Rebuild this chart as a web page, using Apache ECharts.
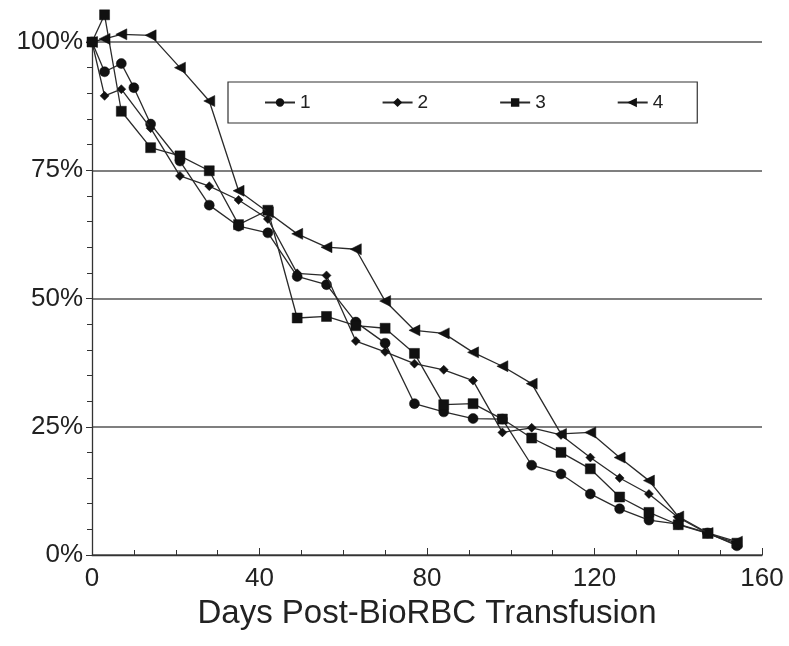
<!DOCTYPE html>
<html>
<head>
<meta charset="utf-8">
<script src="https://cdn.jsdelivr.net/npm/echarts@6/dist/echarts.min.js"></script>
<style>
  html, body { margin: 0; padding: 0; background: #fff; }
  #chart { width: 789px; height: 646px; }
</style>
</head>
<body>
<div id="chart"></div>
<script>
// survival of labelled RBC, % remaining by day
const seriesNames = ["1", "2", "3", "4"];

const days1 = [0, 3, 7, 10, 14, 21, 28, 35, 42, 49, 56, 63, 70, 77, 84, 91, 98, 105, 112, 119, 126, 133, 140, 147, 154];
const vals1 = [100, 94.2, 95.8, 91.1, 84, 76.8, 68.2, 64.1, 62.8, 54.3, 52.7, 45.4, 41.3, 29.5, 27.9, 26.6, 26.5, 17.5, 15.8, 11.9, 9, 6.8, 6, 4.3, 1.8];

const days2 = [0, 3, 7, 14, 21, 28, 35, 42, 49, 56, 63, 70, 77, 84, 91, 98, 105, 112, 119, 126, 133, 140, 147, 154];
const vals2 = [100, 89.5, 90.8, 83.2, 73.9, 71.9, 69.2, 65.5, 54.9, 54.5, 41.7, 39.6, 37.3, 36.1, 34, 23.9, 24.8, 23.4, 19, 15, 11.9, 7.3, 4.2, 2];

const days3 = [0, 3, 7, 14, 21, 28, 35, 42, 49, 56, 63, 70, 77, 84, 91, 98, 105, 112, 119, 126, 133, 140, 147, 154];
const vals3 = [100, 105.3, 86.5, 79.4, 77.8, 74.9, 64.4, 67.2, 46.2, 46.5, 44.7, 44.2, 39.3, 29.3, 29.5, 26.5, 22.8, 20, 16.8, 11.3, 8.3, 5.9, 4.2, 2.3];

const days4 = [0, 3, 7, 14, 21, 28, 35, 42, 49, 56, 63, 70, 77, 84, 91, 98, 105, 112, 119, 126, 133, 140, 147, 154];
const vals4 = [100, 100.6, 101.5, 101.3, 95, 88.5, 71, 66.8, 62.6, 60, 59.6, 49.5, 43.8, 43.2, 39.5, 36.8, 33.4, 23.6, 23.9, 19, 14.5, 7.5, 4.3, 2.6];

const xTicks = [0, 40, 80, 120, 160];
const yTicks = [0, 25, 50, 75, 100];

const allDays = [days1, days2, days3, days4];
const allVals = [vals1, vals2, vals3, vals4];
const symbols = ["circle", "diamond", "rect", "triangle"];
const symbolSizes = [10, 9, 10, 11];
const symbolRot = [0, 0, 0, 90];

const FONT = "Liberation Sans, Arial, Helvetica, sans-serif";

const chart = echarts.init(document.getElementById("chart"));

const series = seriesNames.map((name, i) => ({
  name: name,
  type: "line",
  data: allDays[i].map((d, k) => [d, allVals[i][k]]),
  symbol: symbols[i],
  symbolSize: symbolSizes[i],
  symbolRotate: symbolRot[i],
  clip: false,
  lineStyle: { color: "#2a2a2a", width: 1.3 },
  itemStyle: { color: "#111", borderColor: "#111", borderWidth: 0.5 },
  emphasis: { disabled: true },
  z: 3 + i,
}));

chart.setOption({
  animation: false,
  backgroundColor: "#fff",
  grid: { left: 92, right: 27, top: 42, bottom: 91 },
  legend: {
    data: seriesNames,
    left: 228,
    top: 82,
    width: 478,
    padding: [11, 34, 11, 36],
    itemGap: 71,
    itemWidth: 30,
    itemHeight: 8,
    borderColor: "#333",
    borderWidth: 1.2,
    textStyle: { fontFamily: FONT, fontSize: 19, color: "#222" },
  },
  xAxis: {
    type: "value",
    min: 0,
    max: 160,
    interval: 40,
    name: "Days Post-BioRBC Transfusion",
    nameLocation: "middle",
    nameGap: 42,
    nameTextStyle: { fontFamily: FONT, fontSize: 33, color: "#222" },
    axisLine: { show: true, lineStyle: { color: "#333", width: 1.3 } },
    axisTick: { show: true, inside: true, length: 7, lineStyle: { color: "#333" } },
    minorTick: { show: true, splitNumber: 4, length: 5, lineStyle: { color: "#333" } },
    axisLabel: {
      fontFamily: FONT, fontSize: 26, color: "#222", margin: 11,
      formatter: (v) => (xTicks.includes(v) ? String(v) : ""),
    },
    splitLine: { show: false },
  },
  yAxis: {
    type: "value",
    min: 0,
    max: 100,
    interval: 25,
    axisLine: { show: true, lineStyle: { color: "#333", width: 1.3 } },
    axisTick: { show: true, length: 6, lineStyle: { color: "#333" } },
    minorTick: { show: true, splitNumber: 5, length: 5, lineStyle: { color: "#333" } },
    axisLabel: {
      fontFamily: FONT, fontSize: 26, color: "#222", margin: 9,
      formatter: (v) => (yTicks.includes(v) ? v + "%" : ""),
    },
    splitLine: { show: true, lineStyle: { color: "#555", width: 1.5 } },
  },
  series: series,
});
</script>
</body>
</html>
